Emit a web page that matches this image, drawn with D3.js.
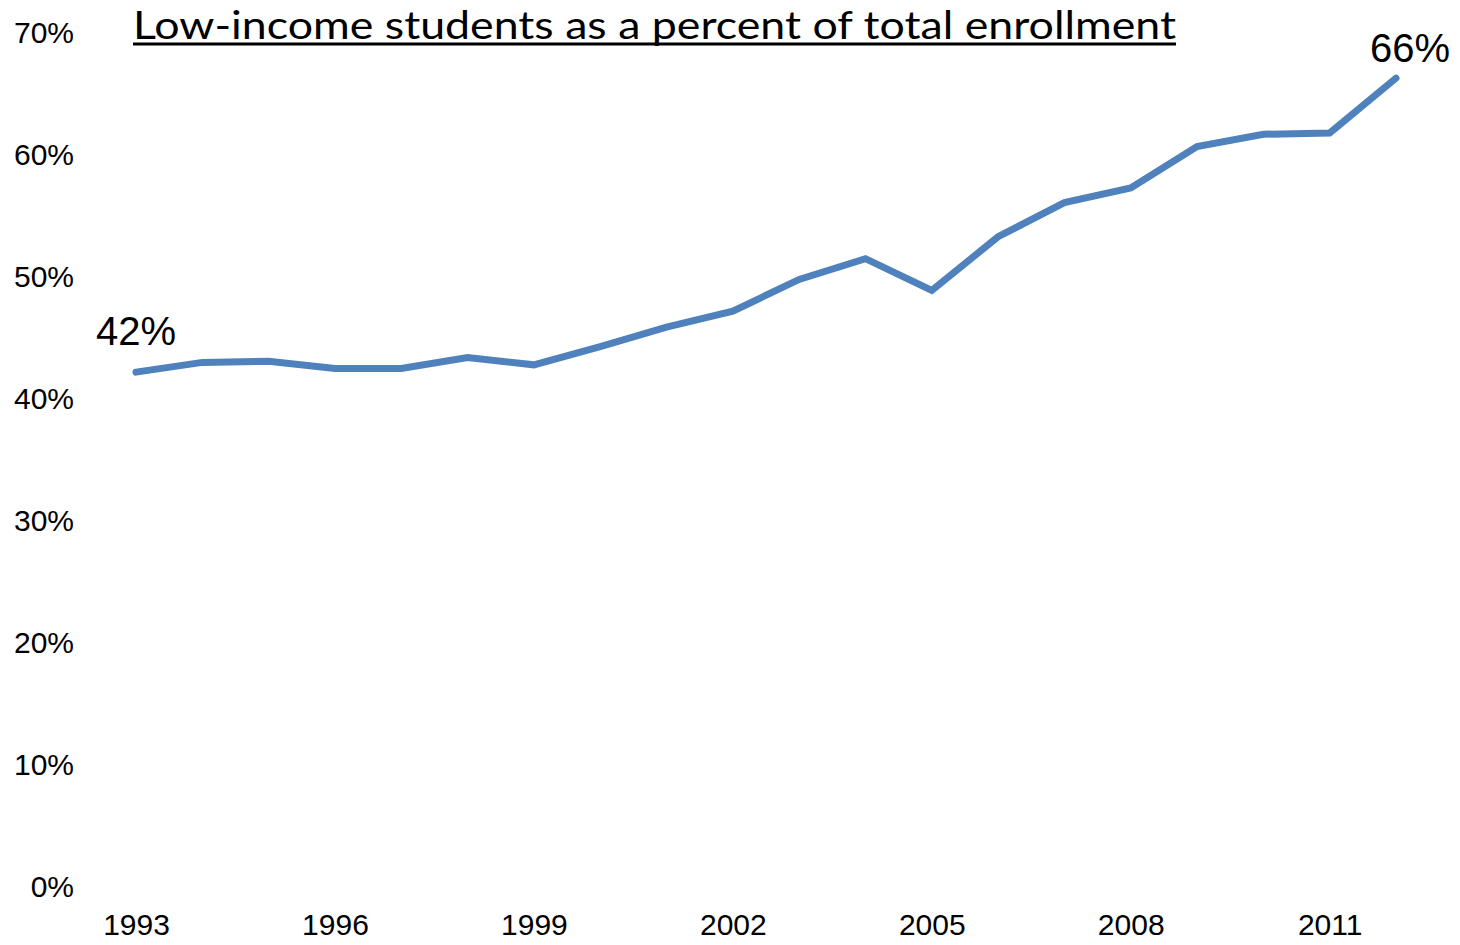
<!DOCTYPE html>
<html><head><meta charset="utf-8">
<script src="https://cdn.jsdelivr.net/npm/d3@7"></script>
<style>html,body{margin:0;padding:0;background:#fff;}svg{display:block;}</style>
</head><body>
<svg id="c" width="1460" height="945"></svg>
<script>
const years = [1993,1994,1995,1996,1997,1998,1999,2000,2001,2002,2003,2004,2005,2006,2007,2008,2009,2010,2011,2012];
const values = [42.2,43.0,43.1,42.5,42.5,43.4,42.8,44.3,45.9,47.2,49.8,51.5,48.9,53.3,56.1,57.3,60.7,61.7,61.8,66.3];
const yTicks = [0,10,20,30,40,50,60,70];
const xTicks = [1993,1996,1999,2002,2005,2008,2011];
const title = "Low-income students as a percent of total enrollment";
const firstLabel = "42%", lastLabel = "66%";

const svg = d3.select("#c");
const x = d3.scaleLinear().domain([1993,2012]).range([136,1396]);
const y = d3.scaleLinear().domain([0,70]).range([887,33]);

const yAxis = svg.append("g").attr("transform","translate(74,0)")
  .call(d3.axisLeft(y).tickValues(yTicks).tickSize(0).tickPadding(0).tickFormat(d=>d+"%"));
yAxis.select(".domain").remove();
yAxis.selectAll("text").attr("font-family","'Liberation Sans',Arial,sans-serif").attr("font-size",30).attr("fill","#000");

const xAxis = svg.append("g").attr("transform","translate(0,914)")
  .call(d3.axisBottom(x).tickValues(xTicks).tickSize(0).tickPadding(0).tickFormat(d3.format("d")));
xAxis.select(".domain").remove();
xAxis.selectAll("text").attr("font-family","'Liberation Sans',Arial,sans-serif").attr("font-size",30).attr("fill","#000");

const line = d3.line().x((d,i)=>x(years[i])).y(d=>y(d));
svg.append("path").datum(values).attr("d",line)
  .attr("fill","none").attr("stroke","#4F81BD").attr("stroke-width",7)
  .attr("stroke-linecap","round").attr("stroke-linejoin","miter");

svg.append("text").attr("x",x(years[0])).attr("y",y(values[0])-27).attr("text-anchor","middle")
  .attr("font-family","'Liberation Sans',Arial,sans-serif").attr("font-size",40).text(firstLabel);
svg.append("text").attr("x",x(years[years.length-1])+14).attr("y",y(values[values.length-1])-16).attr("text-anchor","middle")
  .attr("font-family","'Liberation Sans',Arial,sans-serif").attr("font-size",40).text(lastLabel);

svg.append("text").attr("x",133).attr("y",38.5)
  .attr("font-family","Lato,'Open Sans',sans-serif").attr("font-size",38)
  .attr("textLength",1043).attr("lengthAdjust","spacingAndGlyphs").text(title);
svg.append("line").attr("x1",133).attr("x2",1176).attr("y1",44).attr("y2",44).attr("stroke","#000").attr("stroke-width",3);
</script>
</body></html>
